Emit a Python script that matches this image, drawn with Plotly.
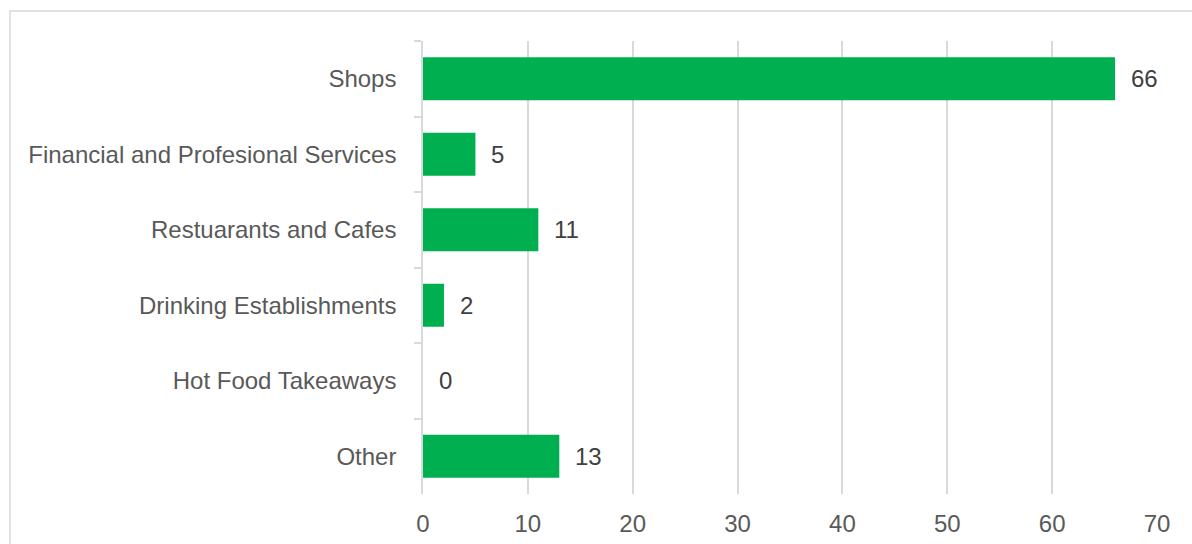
import plotly.graph_objects as go

# Count of units by use class
categories = [
    "Shops",
    "Financial and Profesional Services",
    "Restuarants and Cafes",
    "Drinking Establishments",
    "Hot Food Takeaways",
    "Other",
]
counts = [66, 5, 11, 2, 0, 13]
x_ticks = [0, 10, 20, 30, 40, 50, 60, 70]

GREEN = "#00B050"
GRID = "#d9d9d9"
TEXT = "#595959"
FONT = "Liberation Sans, Arial, sans-serif"
FS = 24

fig = go.Figure(
    go.Bar(
        x=counts,
        y=categories,
        orientation="h",
        marker=dict(color=GREEN, line=dict(width=0)),
        hoverinfo="x+y",
    )
)

# value labels to the right of each bar
for cat, val in zip(categories, counts):
    fig.add_annotation(
        x=val, y=cat, text=str(val), showarrow=False,
        xanchor="left", yanchor="middle", xshift=14,
        font=dict(family=FONT, size=FS, color="#404040"),
    )

# outer chart frame
fig.add_shape(
    type="rect", xref="paper", yref="paper",
    x0=-0.5627, x1=1.2, y0=-0.3, y1=1.0662,
    line=dict(color=GRID, width=1.5), fillcolor="rgba(0,0,0,0)", layer="below",
)

fig.update_layout(
    width=1192, height=544,
    margin=dict(l=423, r=35, t=41, b=50, autoexpand=False),
    paper_bgcolor="white", plot_bgcolor="white",
    bargap=0.43,
    showlegend=False,
    font=dict(family=FONT, size=FS, color=TEXT),
    xaxis=dict(
        range=[0, 70], tickvals=x_ticks, ticktext=[str(v) for v in x_ticks],
        showgrid=True, gridcolor=GRID, gridwidth=1.5,
        zeroline=False, showline=False, ticks="",
        ticklabelstandoff=13, automargin=False,
        tickfont=dict(family=FONT, size=FS, color=TEXT),
        fixedrange=True,
    ),
    yaxis=dict(
        categoryorder="array", categoryarray=categories, autorange="reversed",
        showline=True, linecolor=GRID, linewidth=1.5,
        ticks="outside", tickson="boundaries", ticklen=7, tickcolor=GRID, tickwidth=1.5,
        ticklabelstandoff=20, automargin=False,
        showgrid=False, zeroline=False,
        tickfont=dict(family=FONT, size=FS, color=TEXT),
        fixedrange=True,
    ),
)

fig.write_html("out.html")
